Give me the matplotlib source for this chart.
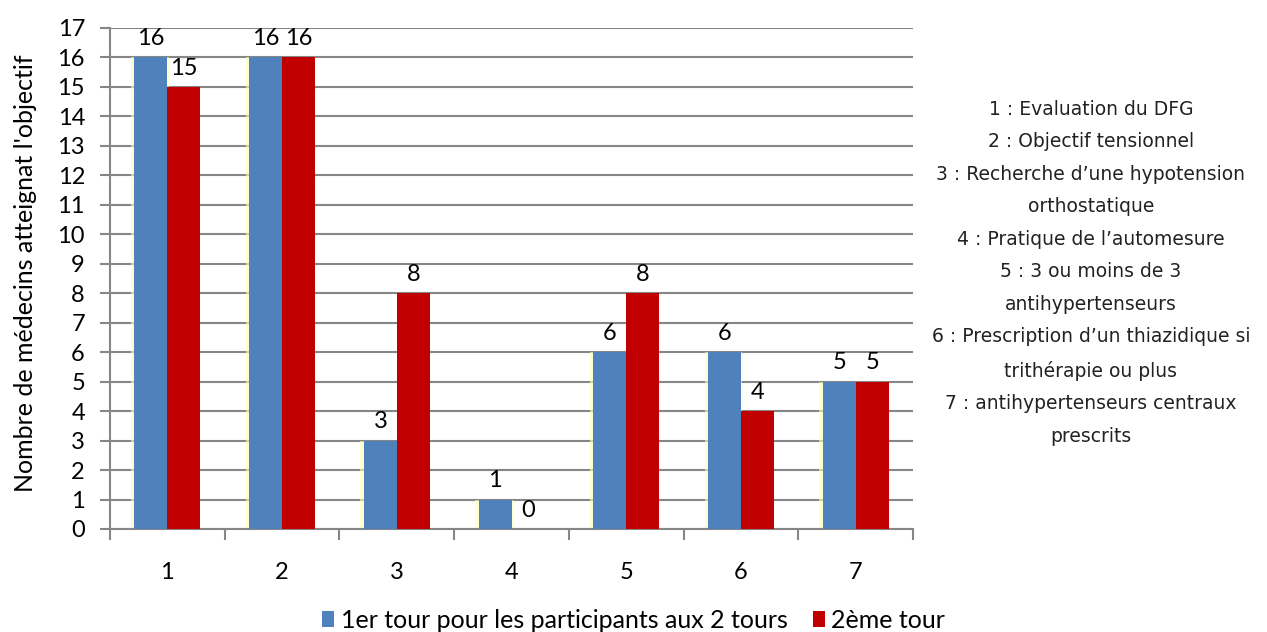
import matplotlib.pyplot as plt
import numpy as np

categories = ['1', '2', '3', '4', '5', '6', '7']
tour1 = [16, 16, 3, 1, 6, 6, 5]
tour2 = [15, 16, 8, 0, 8, 4, 5]
series_names = ['1er tour pour les participants aux 2 tours', '2ème tour']
ylabel = "Nombre de médecins atteignat l'objectif"
notes = ["1 : Evaluation du DFG",
         "2 : Objectif tensionnel",
         "3 : Recherche d\u2019une hypotension",
         "orthostatique",
         "4 : Pratique de l\u2019automesure",
         "5 : 3 ou moins de 3",
         "antihypertenseurs",
         "6 : Prescription d\u2019un thiazidique si",
         "trithérapie ou plus",
         "7 : antihypertenseurs centraux",
         "prescrits"]

plt.rcParams['font.family'] = ['Lato', 'DejaVu Sans']

fig = plt.figure(figsize=(12.67, 6.32), dpi=100)
ax = fig.add_axes([0.0868, 0.163, 0.634, 0.7927])

x = np.arange(len(categories))
w = 0.287
blue = '#4F81BD'
red = '#C00000'
grey = '#868686'

# faint yellow glow next to the blue bars
ax.bar(x - w / 2 - 0.01, tour1, width=w + 0.04, color='#FFFFB0', alpha=0.6, zorder=2)
b1 = ax.bar(x - w / 2, tour1, width=w, color=blue, zorder=3, label=series_names[0])
b2 = ax.bar(x + w / 2, tour2, width=w, color=red, zorder=3, label=series_names[1])

for bars in (b1, b2):
    for rect in bars:
        h = rect.get_height()
        ax.annotate(f'{int(h)}', (rect.get_x() + rect.get_width() / 2, h),
                    xytext=(0, 6), textcoords='offset points',
                    ha='center', va='bottom', fontsize=17, color='black')

ax.set_xlim(-0.5, len(categories) - 0.5)
ax.set_ylim(0, 17)
ax.set_yticks(range(0, 18))
ax.tick_params(axis='y', labelsize=17, length=7, width=1.5, color=grey, pad=11)
ax.yaxis.grid(True, color=grey, linewidth=1.5, zorder=0)
ax.set_axisbelow(True)

ax.set_xticks(x)
ax.set_xticklabels(categories)
ax.set_xticks(np.arange(-0.5, len(categories)), minor=True)
ax.tick_params(axis='x', which='major', length=0, labelsize=17, pad=24)
ax.tick_params(axis='x', which='minor', length=8, width=1.5, color=grey)

for side in ('top', 'right'):
    ax.spines[side].set_visible(False)
for side in ('left', 'bottom'):
    ax.spines[side].set_color(grey)
    ax.spines[side].set_linewidth(1.5)

ax.set_ylabel(ylabel, fontsize=18)
ax.yaxis.set_label_coords(-0.091, 0.51)

fig.text(0.861, 0.842, '\n'.join(notes), ha='center', va='top',
         fontsize=13.5, family='DejaVu Sans', linespacing=1.90, color='#222222')

fig.legend(loc='lower center', bbox_to_anchor=(0.5, -0.035), ncol=2,
           frameon=False, fontsize=18, handlelength=0.5, handleheight=0.6,
           handletextpad=0.25, columnspacing=1.0)

fig.savefig('out.png', dpi=100)
